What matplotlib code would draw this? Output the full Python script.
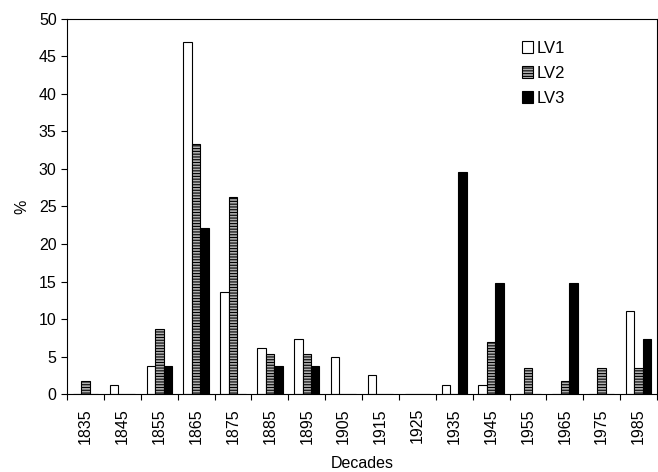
import matplotlib
matplotlib.use("Agg")
import matplotlib.pyplot as plt
import numpy as np

plt.rcParams['font.family'] = ['Liberation Sans', 'DejaVu Sans']
plt.rcParams['hatch.linewidth'] = 0.8

decades = ['1835', '1845', '1855', '1865', '1875', '1885', '1895', '1905',
           '1915', '1925', '1935', '1945', '1955', '1965', '1975', '1985']
lv1 = [0, 1.2, 3.7, 46.9, 13.6, 6.2, 7.4, 4.9, 2.5, 0, 1.2, 1.2, 0, 0, 0, 11.1]
lv2 = [1.8, 0, 8.7, 33.3, 26.3, 5.3, 5.3, 0, 0, 0, 0, 7.0, 3.5, 1.8, 3.5, 3.5]
lv3 = [0, 0, 3.7, 22.2, 0, 3.7, 3.7, 0, 0, 0, 29.6, 14.8, 0, 14.8, 0, 7.4]

fig = plt.figure(figsize=(6.58, 4.72), dpi=100)
ax = fig.add_axes([0.102, 0.165, 0.8965, 0.795])

x = np.arange(len(decades))
w = 0.23
ax.bar(x - w, lv1, w, color='white', edgecolor='black', linewidth=0.8, label='LV1')
ax.bar(x, lv2, w, color='#b0b0b0', edgecolor='black', linewidth=0.8,
       hatch='------', label='LV2')
ax.bar(x + w, lv3, w, color='black', edgecolor='black', linewidth=0.8, label='LV3')

ax.set_xlim(-0.5, len(decades) - 0.5)
ax.set_ylim(0, 50)
ax.set_yticks(np.arange(0, 51, 5))
ax.set_xticks(x)
ax.set_xticklabels(decades, rotation=90)
ax.set_xticks(np.arange(-0.5, len(decades), 1), minor=True)
ax.tick_params(axis='x', which='major', length=0, pad=10, labelsize=11.5)
ax.tick_params(axis='x', which='minor', length=4, width=0.8)
ax.tick_params(axis='y', length=4, width=0.8, labelsize=11.5)

for s in ax.spines.values():
    s.set_linewidth(0.8)

ax.set_xlabel('Decades', fontsize=11.5, labelpad=9)
ax.set_ylabel('%', fontsize=11.5, labelpad=7)

ax.legend(loc='upper left', bbox_to_anchor=(0.745, 0.982), frameon=False,
          fontsize=12, handlelength=0.7, handleheight=0.7, handletextpad=0.2,
          labelspacing=0.6)

fig.savefig('out.png', dpi=100)
